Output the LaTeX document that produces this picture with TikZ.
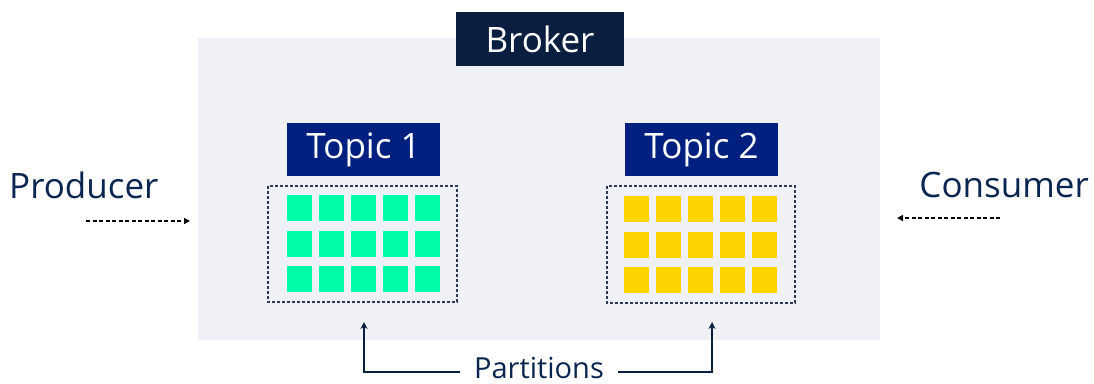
\documentclass[tikz,border=0pt]{standalone}
\usepackage{fontspec}
\setmainfont{Open Sans}
\usetikzlibrary{arrows.meta}
\definecolor{bgray}{HTML}{F0F1F7}
\definecolor{navy}{HTML}{0A1F3F}
\definecolor{tblue}{HTML}{00207F}
\definecolor{txt}{HTML}{0A2550}
\definecolor{green1}{HTML}{00FFA6}
\definecolor{yel}{HTML}{FFD500}
\definecolor{dash}{HTML}{2E3A55}
\tikzset{
  px/.style={x=1pt,y=-1pt},
  label/.style={inner sep=0pt,text=txt,font=\fontsize{35}{35}\selectfont},
  hdr/.style={inner sep=0pt,text=white,font=\fontsize{35}{35}\selectfont},
  flow/.style={draw=black,dashed,line width=1.4pt,dash pattern=on 4pt off 2.5pt,-{Triangle[length=6pt,width=6pt]}},
  part/.style={draw=navy,line width=1.5pt,-{Stealth[length=7pt,width=7pt]}},
  grp/.style={draw=dash,line width=1.2pt,dash pattern=on 3pt off 2pt}
}
\begin{document}
\begin{tikzpicture}[px]
\useasboundingbox (0,0) rectangle (1094,383);
% broker area
\fill[bgray] (198,38) rectangle (880,340);
\node[fill=navy,minimum width=168pt,minimum height=54pt,inner sep=0pt] (broker) at (540,39) {};
\node[hdr] at (broker.center) {Broker};
% topics
\node[fill=tblue,minimum width=153pt,minimum height=53pt,inner sep=0pt] (t1) at (363.5,149.5) {};
\node[hdr] at (t1.center) {Topic 1};
\node[fill=tblue,minimum width=153pt,minimum height=53pt,inner sep=0pt] (t2) at (701.5,149.5) {};
\node[hdr] at (t2.center) {Topic 2};
% partition groups
\draw[grp] (268,186) rectangle (457,302);
\draw[grp] (607,186) rectangle (795,303);
\foreach \i in {0,...,4}{
  \foreach \j/\y in {0/195,1/231,2/266}{
    \fill[green1] (287+32*\i,\y) rectangle ++(25,26);
    \fill[yel] (624+32*\i,\y+1) rectangle ++(25,26);
  }
}
% producer / consumer
\node[label,anchor=west] (prod) at (9,185) {Producer};
\node[label,anchor=east] (cons) at (1089,185) {Consumer};
\coordinate (pa) at (86,221);
\coordinate (pb) at (190,221);
\coordinate (ca) at (1000,218);
\coordinate (cb) at (897,218);
\draw[flow] (pa) -- (pb);
\draw[flow] (ca) -- (cb);
% partitions label
\node[label,font=\fontsize{29}{29}\selectfont,text depth=0pt,anchor=base] (parts) at (539,378) {Partitions};
\coordinate (l1) at (364,372);
\coordinate (l2) at (712,372);
\draw[part] (460,372) -- (l1) -- (364,322);
\draw[part] (618,372) -- (l2) -- (712,322);
\end{tikzpicture}
\end{document}
